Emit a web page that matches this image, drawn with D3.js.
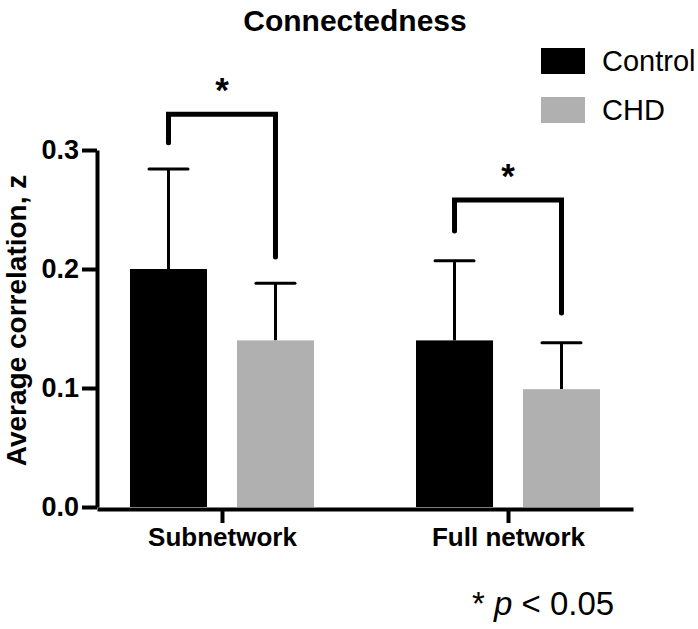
<!DOCTYPE html>
<html>
<head>
<meta charset="utf-8">
<script src="https://cdn.jsdelivr.net/npm/d3@7"></script>
<style>
  html, body { margin: 0; padding: 0; background: #fff; }
  svg { display: block; font-family: "Liberation Sans", Arial, Helvetica, sans-serif; }
</style>
</head>
<body>
<svg id="chart" width="698" height="629"></svg>
<script>
// ---- data ----
const categories = ["Subnetwork", "Full network"];
const seriesNames = ["Control", "CHD"];
const controlMeans = [0.200, 0.140];
const controlErrors = [0.084, 0.067];
const chdMeans = [0.140, 0.099];
const chdErrors = [0.048, 0.039];
const yTicks = [0.0, 0.1, 0.2, 0.3];
const bracketTop = [0.330, 0.258];
const bracketLeftEnd = [0.306, 0.232];
const bracketRightEnd = [0.210, 0.163];
const sigMarks = ["*", "*"];

(function () {
// ---- layout ----
const svg = d3.select("#chart");
const pLeft = 97, pRight = 633, pTop = 150, pBottom = 507;
const colors = { "Control": "#000000", "CHD": "#b0b0b0" };
const font = '"Liberation Sans", Arial, Helvetica, sans-serif';

const y = d3.scaleLinear().domain([0, 0.3]).range([pBottom, pTop]);
const x = d3.scalePoint().domain(categories).range([pLeft, pRight]).padding(0.437);
const xs = d3.scaleBand().domain(seriesNames).range([-92, 92]).paddingInner(0.28).paddingOuter(0);

const rows = [];
categories.forEach((c, i) => {
  rows.push({ cat: c, s: "Control", v: controlMeans[i], e: controlErrors[i] });
  rows.push({ cat: c, s: "CHD", v: chdMeans[i], e: chdErrors[i] });
});
const cx = d => x(d.cat) + xs(d.s) + xs.bandwidth() / 2;

// error bars
const eb = svg.append("g");
eb.selectAll("line.stem").data(rows).join("line").attr("class", "stem")
  .attr("x1", cx).attr("x2", cx)
  .attr("y1", d => y(d.v)).attr("y2", d => y(d.v + d.e))
  .attr("stroke", "#000").attr("stroke-width", 3);
eb.selectAll("line.cap").data(rows).join("line").attr("class", "cap")
  .attr("x1", d => cx(d) - 19.5).attr("x2", d => cx(d) + 19.5)
  .attr("y1", d => y(d.v + d.e)).attr("y2", d => y(d.v + d.e))
  .attr("stroke", "#000").attr("stroke-width", 3).attr("stroke-linecap", "round");

// bars
svg.append("g").selectAll("rect").data(rows).join("rect")
  .attr("x", d => x(d.cat) + xs(d.s))
  .attr("width", xs.bandwidth())
  .attr("y", d => y(d.v))
  .attr("height", d => y(0) - y(d.v))
  .attr("fill", d => colors[d.s]);

// significance brackets
const br = svg.append("g");
categories.forEach((c, i) => {
  const xl = x(c) + xs("Control") + xs.bandwidth() / 2;
  const xr = x(c) + xs("CHD") + xs.bandwidth() / 2;
  br.append("path")
    .attr("d", `M${xl},${y(bracketLeftEnd[i])}V${y(bracketTop[i])}H${xr}V${y(bracketRightEnd[i])}`)
    .attr("fill", "none").attr("stroke", "#000").attr("stroke-width", 5)
    .attr("stroke-linecap", "round").attr("stroke-linejoin", "miter");
  br.append("text")
    .attr("x", x(c)).attr("y", y(bracketTop[i]) - 12)
    .attr("text-anchor", "middle")
    .attr("font-size", 35).attr("font-weight", "bold")
    .text(sigMarks[i]);
});

// y axis
const yAxis = svg.append("g").attr("transform", `translate(${pLeft},0)`)
  .call(d3.axisLeft(y).tickValues(yTicks).tickFormat(d3.format(".1f")).tickSize(15).tickSizeOuter(0).tickPadding(3));
yAxis.select(".domain").attr("stroke-width", 4).attr("stroke", "#000");
yAxis.selectAll(".tick line").attr("stroke-width", 4).attr("stroke", "#000");
yAxis.selectAll(".tick text").attr("font-size", 27).attr("font-weight", "bold")
  .attr("font-family", font).attr("fill", "#000");

// x axis
const xAxis = svg.append("g").attr("transform", `translate(0,${pBottom + 2})`)
  .call(d3.axisBottom(x).tickSize(14).tickSizeOuter(0).tickPadding(5));
xAxis.select(".domain").attr("stroke-width", 4).attr("stroke", "#000");
xAxis.selectAll(".tick line").attr("stroke-width", 4).attr("stroke", "#000");
xAxis.selectAll(".tick text").attr("font-size", 26).attr("font-weight", "bold")
  .attr("font-family", font).attr("fill", "#000");

// y label
svg.append("text")
  .attr("transform", `translate(26,${(pTop + pBottom) / 2 - 8}) rotate(-90)`)
  .attr("text-anchor", "middle")
  .attr("font-size", 28).attr("font-weight", "bold")
  .text("Average correlation, z");

// title
svg.append("text")
  .attr("x", 355).attr("y", 31)
  .attr("text-anchor", "middle")
  .attr("font-size", 30).attr("font-weight", "bold")
  .text("Connectedness");

// legend
const lg = svg.append("g");
seriesNames.forEach((s, i) => {
  lg.append("rect").attr("x", 541).attr("y", 48 + i * 49).attr("width", 44).attr("height", 26).attr("fill", colors[s]);
  lg.append("text").attr("x", 602).attr("y", 61 + i * 49).attr("dy", "0.35em")
    .attr("font-size", 29).text(s);
});

// footnote
const fn = svg.append("text").attr("x", 472).attr("y", 615).attr("font-size", 33);
fn.append("tspan").text("* ");
fn.append("tspan").attr("font-style", "italic").text("p");
fn.append("tspan").text(" < 0.05");
})();
</script>
</body>
</html>
